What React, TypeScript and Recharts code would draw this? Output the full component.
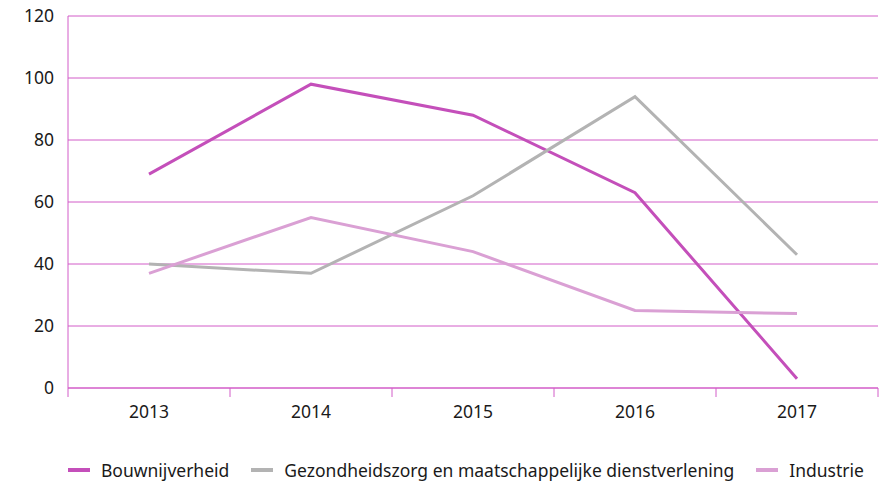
import { LineChart, Line, XAxis, YAxis, CartesianGrid, Legend } from "recharts";

const years = ["2013", "2014", "2015", "2016", "2017"];
const bouwnijverheid = [69, 98, 88, 63, 3];
const gezondheidszorg = [40, 37, 62, 94, 43];
const industrie = [37, 55, 44, 25, 24];
const yTicks = [0, 20, 40, 60, 80, 100, 120];

const seriesNames = ["Bouwnijverheid", "Gezondheidszorg en maatschappelijke dienstverlening", "Industrie"];
const seriesColors = ["#c44fba", "#b3b3b3", "#daa0d4"];

const data = years.map((year, i) => ({
  year,
  [seriesNames[0]]: bouwnijverheid[i],
  [seriesNames[1]]: gezondheidszorg[i],
  [seriesNames[2]]: industrie[i],
}));

const gridColor = "#d25cc8";
const font = "'Noto Sans', sans-serif";
const band = 810 / years.length;

// category ticks: label in the middle, small tick marks at the band edges
// eslint-disable-next-line @typescript-eslint/no-explicit-any
const YearTick = (props: any) => {
  const { x, y, payload, index } = props;
  const left = x - band / 2;
  return (
    <g>
      <line x1={left} y1={y - 8} x2={left} y2={y + 1} stroke={gridColor} strokeWidth={1} />
      {index === years.length - 1 && (
        <line x1={left + band} y1={y - 8} x2={left + band} y2={y + 1} stroke={gridColor} strokeWidth={1} />
      )}
      <text x={x} y={y + 22} textAnchor="middle" fill="#1a1a1a" fontSize={17.5} fontFamily={font}>
        {payload.value}
      </text>
    </g>
  );
};

const LegendContent = () => (
  <div style={{ display: "flex", justifyContent: "flex-start", alignItems: "center", paddingTop: 25, paddingLeft: 68, fontFamily: font, fontSize: 17.5, color: "#1a1a1a" }}>
    {seriesNames.map((name, i) => (
      <div key={name} style={{ display: "flex", alignItems: "center", marginRight: i < seriesNames.length - 1 ? 22 : 0 }}>
        <span style={{ display: "inline-block", width: 22, height: 4, background: seriesColors[i], marginRight: 11 }} />
        <span>{name}</span>
      </div>
    ))}
  </div>
);

export default function App() {
  return (
    <div style={{ position: "absolute", left: 0, top: 0, background: "#fff" }}>
      <LineChart width={889} height={483} data={data} margin={{ top: 16, right: 11, left: 0, bottom: 0 }}>
        <CartesianGrid vertical={false} stroke={gridColor} strokeWidth={1} />
        <XAxis
          dataKey="year"
          stroke={gridColor}
          tickLine={false}
          height={45}
          tick={<YearTick />}
          interval={0}
          padding={{ left: band / 2, right: band / 2 }}
        />
        <YAxis
          width={68}
          domain={[0, 120]}
          ticks={yTicks}
          stroke={gridColor}
          tickLine={false}
          tickMargin={8}
          tick={{ fontSize: 17.5, fill: "#1a1a1a", fontFamily: font }}
        />
        <Legend verticalAlign="bottom" height={50} content={<LegendContent />} />
        {seriesNames.map((name, i) => (
          <Line
            key={name}
            type="linear"
            dataKey={name}
            stroke={seriesColors[i]}
            strokeWidth={3}
            dot={false}
            isAnimationActive={false}
          />
        ))}
      </LineChart>
    </div>
  );
}
